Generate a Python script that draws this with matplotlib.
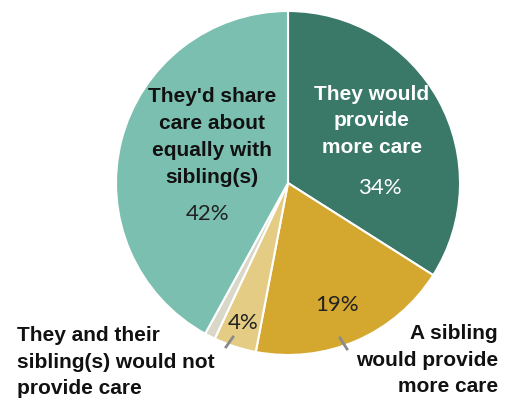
import matplotlib
matplotlib.use("Agg")
import matplotlib.pyplot as plt

categories = [
    "They would\nprovide\nmore care",
    "A sibling\nwould provide\nmore care",
    "They and their\nsibling(s) would not\nprovide care",
    "",
    "They'd share\ncare about\nequally with\nsibling(s)",
]
values = [34, 19, 4, 1, 42]
pct_labels = ["34%", "19%", "4%", "", "42%"]
colors = ["#3a7868", "#d4a72f", "#e4cc85", "#d9d7c7", "#7abfaf"]

W, H = 505, 400
fig = plt.figure(figsize=(W / 100, H / 100), dpi=100)

# pie axes: center (288, 183) px, radius 172 px
cx, cy, r = 288, 183, 172
ax = fig.add_axes([(cx - r) / W, (H - cy - r) / H, 2 * r / W, 2 * r / H])
ax.pie(values, colors=colors, startangle=90, counterclock=False, radius=1,
       wedgeprops=dict(edgecolor="white", linewidth=1.5))
ax.set_xlim(-1, 1)
ax.set_ylim(-1, 1)
ax.set_aspect("auto")
ax.axis("off")

bold = ["Liberation Sans", "DejaVu Sans"]
light = ["Lato", "DejaVu Sans"]


def px(x, y):
    return x / W, 1 - y / H


def label(x, y, s, ha="center", color="#111111", size=15):
    fig.text(*px(x, y), s, ha=ha, va="center", color=color, fontsize=size,
             family=bold, fontweight="bold", linespacing=1.52)


def pct(x, y, s, color="#222222"):
    fig.text(*px(x, y), s, ha="center", va="center", color=color,
             fontsize=16, family=light, fontweight="normal")


label(372, 121, categories[0], color="white")
pct(380, 188, pct_labels[0], color="white")

label(212, 137, categories[4])
pct(208, 214, pct_labels[4])

pct(337, 305, pct_labels[1])
pct(243, 323, pct_labels[2])

label(17, 362, categories[2], ha="left")
label(498, 360, categories[1], ha="right")

# leader lines
for (x0, y0), (x1, y1) in [((233, 337), (226, 347)), ((340, 338), (347, 349))]:
    fig.add_artist(plt.Line2D([x0 / W, x1 / W], [1 - y0 / H, 1 - y1 / H],
                              color="#8a8a8a", linewidth=2))

fig.savefig("out.png", dpi=100)
